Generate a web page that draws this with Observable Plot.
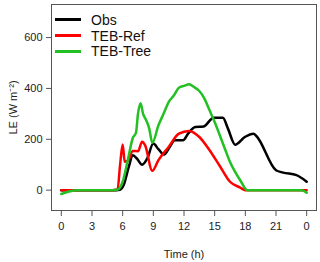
<!DOCTYPE html>
<html><head><meta charset="utf-8">
<script src="https://cdn.jsdelivr.net/npm/d3@7"></script>
<script src="https://cdn.jsdelivr.net/npm/@observablehq/plot@0.6"></script>
<style>
body{margin:0;background:#fff;font-family:"Liberation Sans",Arial,sans-serif;}
#wrap{position:relative;width:320px;height:262px;}
#legend{position:absolute;left:55px;top:12px;font-size:14px;color:#111;}
.row{display:flex;align-items:center;height:15.7px;}
.sw{width:26px;height:3px;margin-right:10px;}
</style></head><body>
<div id="wrap"><div id="legend"></div></div>
<script>
const seriesNames = ["Obs", "TEB-Ref", "TEB-Tree"];
const seriesColors = ["#000000", "#ff0000", "#22c022"];
const obsHours = [0,1,2,3,4,5,5.75,6.1,6.6,7.0,7.4,7.9,8.4,9.0,9.5,10.05,10.6,11.1,11.9,12.4,13.1,13.9,14.9,15.8,16.3,17.0,17.95,18.8,19.1,21.0,21.7,23.0,24.0];
const obsValues = [0,0,0,0,0,0,2,20,92,137,124,100,124,183,161,140,170,196,196,222,248,250,285,285,242,179,209,222,212,78,69,59,33];
const refHours = [0,1,2,3,4,5,5.5,5.75,6.0,6.2,6.5,7.0,7.5,7.9,8.2,8.9,9.5,10.5,11.5,12.5,13.5,14.5,15.5,16.5,17.5,18,19,20,21,22,23,24];
const refValues = [0,0,0,0,0,0,2,100,180,112,115,154,153,190,176,76,118,170,222,233,209,157,95,33,10,0,0,0,0,0,0,0];
const treeHours = [0,0.5,1,1.5,2,3,4,5,5.5,6,6.5,7,7.3,7.5,7.75,8,8.3,8.6,8.9,9.5,10,10.5,11,11.5,12,12.5,13,13.5,14,14.5,15,15.5,16,16.5,17,17.5,18.2,19,20,21,22,23,23.5,24];
const treeValues = [-15,-8,-3,0,0,0,0,0,2,33,118,206,225,300,342,300,275,242,186,255,300,346,372,403,410,416,405,390,360,314,268,216,163,111,72,39,0,0,0,0,0,0,0,-10];
const xTicks = [0,3,6,9,12,15,18,21,24];
const yTicks = [0,200,400,600];

const mk = (h, v, name) => h.map((x, i) => ({hour: x, value: v[i], series: name}));
const data = [
  ...mk(obsHours, obsValues, seriesNames[0]),
  ...mk(refHours, refValues, seriesNames[1]),
  ...mk(treeHours, treeValues, seriesNames[2])
];

const chart = Plot.plot({
  width: 320, height: 262,
  marginLeft: 51, marginRight: 4, marginTop: 4, marginBottom: 52,
  style: {fontFamily: '"Liberation Sans", Arial, sans-serif', fontSize: "11px", color: "#222", background: "#fff"},
  x: {domain: [-0.96, 24.96]},
  y: {domain: [-80, 730]},
  color: {domain: seriesNames, range: seriesColors},
  marks: [
    Plot.axisX({ticks: xTicks, tickFormat: d => String(d % 24), tickSize: 6, tickPadding: 6, fontSize: 11,
      label: "Time (h)", labelAnchor: "center", labelArrow: "none", labelOffset: 47, stroke: "#555"}),
    Plot.axisY({ticks: yTicks, tickSize: 5, tickPadding: 4, fontSize: 11,
      label: "LE (W m⁻²)", labelAnchor: "center", labelArrow: "none", labelOffset: 42, stroke: "#555"}),
    Plot.line(data, {x: "hour", y: "value", z: "series", stroke: "series", strokeWidth: 2.5, curve: "monotone-x"}),
    Plot.frame({stroke: "#555", strokeWidth: 1})
  ]
});
document.getElementById("wrap").prepend(chart);

const leg = document.getElementById("legend");
seriesNames.forEach((n, i) => {
  const r = document.createElement("div"); r.className = "row";
  r.innerHTML = `<div class="sw" style="background:${seriesColors[i]}"></div><span>${n}</span>`;
  leg.appendChild(r);
});
</script>
</body></html>
